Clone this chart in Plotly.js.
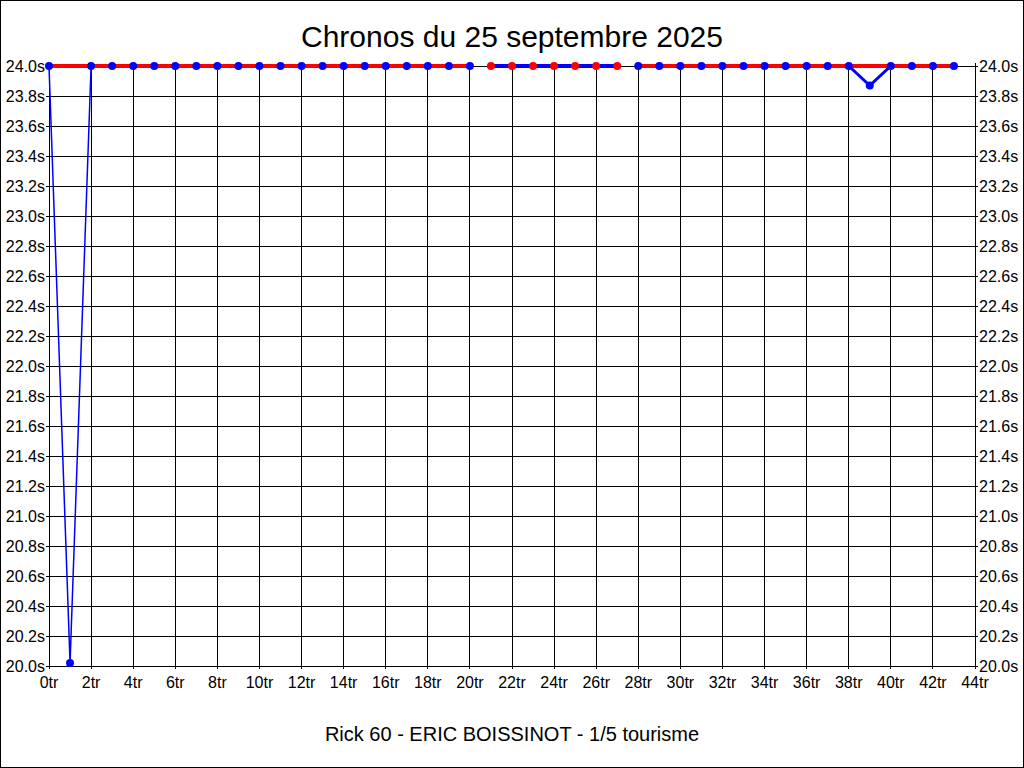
<!DOCTYPE html>
<html><head><meta charset="utf-8">
<script src="https://cdn.plot.ly/plotly-3.0.1.min.js"></script>
<style>
html,body{margin:0;padding:0;background:#fff;}
#chart{width:1024px;height:768px;}
#frame{position:fixed;left:0;top:0;width:1022px;height:766px;border:1px solid #000;pointer-events:none;}
</style></head>
<body><div id="chart"></div><div id="frame"></div>
<script>
// Data
const laps = [0,1,2,3,4,5,6,7,8,9,10,11,12,13,14,15,16,17,18,19,20,21,22,23,24,25,26,27,28,29,30,31,32,33,34,35,36,37,38,39,40,41,42,43];
const times = [24.0,20.02,24.0,24.0,24.0,24.0,24.0,24.0,24.0,24.0,24.0,24.0,24.0,24.0,24.0,24.0,24.0,24.0,24.0,24.0,24.0,
               24.0,24.0,24.0,24.0,24.0,24.0,24.0,
               24.0,24.0,24.0,24.0,24.0,24.0,24.0,24.0,24.0,24.0,24.0,23.87,24.0,24.0,24.0,24.0];
const sessionStart = [0, 21, 28];
const sessionEnd = [20, 27, 43];
const refTime = 24.0;
const xMin = 0, xMax = 44, yMin = 20, yMax = 24;
const titleText = "Chronos du 25 septembre 2025";
const xTitleText = "Rick 60 - ERIC BOISSINOT - 1/5 tourisme";

const PAD = 3;
const pxPerX = 926 / (xMax - xMin), pxPerY = 600 / (yMax - yMin);
const padX = PAD / pxPerX, padY = PAD / pxPerY;

const traces = [];
function seg(i){
  const xs=[], ys=[];
  for(let k=0;k<laps.length;k++){ if(laps[k]>=sessionStart[i] && laps[k]<=sessionEnd[i]){xs.push(laps[k]); ys.push(times[k]);} }
  return {xs, ys};
}
const blueWidths = [1.5, 4, 3];
for(let i=0;i<sessionStart.length;i++){
  const s=seg(i);
  traces.push({x:s.xs,y:s.ys,mode:'lines',line:{color:'#0000ff',width:blueWidths[i]},hoverinfo:'skip',showlegend:false});
}
for(const i of [0,2]){
  const s=seg(i);
  traces.push({x:s.xs,y:s.xs.map(()=>refTime),mode:'lines',line:{color:'#ff0000',width:4},hoverinfo:'skip',showlegend:false});
}
for(let i=0;i<sessionStart.length;i++){
  const s=seg(i);
  traces.push({x:s.xs,y:s.ys,mode:'markers',cliponaxis:false,marker:{color:(i===1?'#ff0000':'#0000ff'),size:8},hoverinfo:'skip',showlegend:false});
}
traces.push({x:[laps[0]],y:[refTime],yaxis:'y2',mode:'markers',marker:{opacity:0},hoverinfo:'skip',showlegend:false});

const font = {family:'"Liberation Sans", Arial, sans-serif', color:'#000'};
const tf = Object.assign({size:16},font);
const layout = {
  width:1024,height:768,
  margin:{l:49-PAD,r:49-PAD,t:66-PAD,b:102-PAD,pad:0},
  paper_bgcolor:'#fff',plot_bgcolor:'#fff',
  font:Object.assign({size:16},font),
  title:{text:titleText,font:Object.assign({size:30},font),x:0.5,xanchor:'center',y:1-36/768,yanchor:'middle'},
  xaxis:{range:[xMin-padX,xMax+padX],dtick:2,tick0:0,ticksuffix:'tr',showgrid:true,gridcolor:'#000',gridwidth:1,
    showline:false,zeroline:false,ticks:'',tickfont:tf,ticklabelstandoff:2,
    title:{text:xTitleText,font:Object.assign({size:20},font),standoff:36}},
  yaxis:{range:[yMin-padY,yMax+padY],dtick:0.2,tick0:20,tickformat:'.1f',ticksuffix:'s',showgrid:true,gridcolor:'#000',gridwidth:1,
    showline:false,zeroline:false,ticks:'',tickfont:tf},
  yaxis2:{range:[yMin-padY,yMax+padY],dtick:0.2,tick0:20,tickformat:'.1f',ticksuffix:'s',overlaying:'y',side:'right',showgrid:false,
    zeroline:false,ticks:'',tickfont:tf},
  showlegend:false
};
Plotly.newPlot('chart',traces,layout,{displayModeBar:false,staticPlot:true});
</script></body></html>
